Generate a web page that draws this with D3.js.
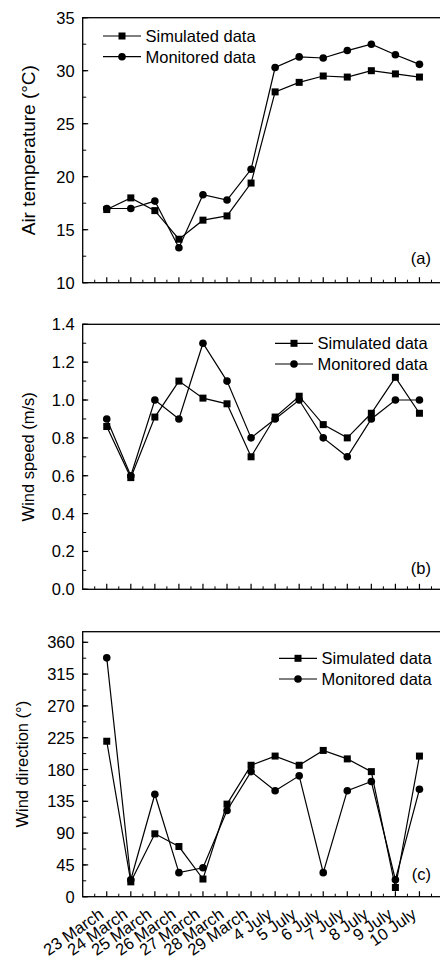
<!DOCTYPE html>
<html>
<head>
<meta charset="utf-8">
<script src="https://cdn.jsdelivr.net/npm/d3@7"></script>
<style>
  body { margin: 0; background: #fff; }
  svg { display: block; }
  text { font-family: "Liberation Sans", Arial, sans-serif; fill: #000; }
</style>
</head>
<body>
<svg id="chart"></svg>
<script>
// dates on the x axis
const dates = ["23 March", "24 March", "25 March", "26 March", "27 March", "28 March", "29 March",
               "4 July", "5 July", "6 July", "7 July", "8 July", "9 July", "10 July"];

const seriesNames = ["Simulated data", "Monitored data"];

// (a) air temperature
const tempSimulated = [16.9, 18.0, 16.8, 14.1, 15.9, 16.3, 19.4, 28.0, 28.9, 29.5, 29.4, 30.0, 29.7, 29.4];
const tempMonitored = [17.0, 17.0, 17.7, 13.3, 18.3, 17.8, 20.7, 30.3, 31.3, 31.2, 31.9, 32.5, 31.5, 30.6];
const tempTicks = [10, 15, 20, 25, 30, 35];

// (b) wind speed
const speedSimulated = [0.86, 0.59, 0.91, 1.10, 1.01, 0.98, 0.70, 0.91, 1.02, 0.87, 0.80, 0.93, 1.12, 0.93];
const speedMonitored = [0.90, 0.60, 1.00, 0.90, 1.30, 1.10, 0.80, 0.90, 1.00, 0.80, 0.70, 0.90, 1.00, 1.00];
const speedTicks = [0.0, 0.2, 0.4, 0.6, 0.8, 1.0, 1.2, 1.4];

// (c) wind direction
const dirSimulated = [220, 21, 89, 71, 25, 131, 186, 199, 186, 207, 195, 177, 13, 199];
const dirMonitored = [338, 24, 145, 34, 41, 122, 177, 150, 171, 34, 150, 163, 24, 152];
const dirTicks = [0, 45, 90, 135, 180, 225, 270, 315, 360];

const width = 440, height = 957;
const svg = d3.select('#chart').attr('width', width).attr('height', height);

const x = d3.scaleLinear().domain([-1, dates.length]).range([82.7, 443.5]);

const panels = [
  { top: 17.7, domain: [10, 35], ticks: tempTicks, minor: 2.5, fmt: d3.format('d'),
    title: 'Air temperature (\u00B0C)', titleX: 28, titleSize: 19, label: '(a)', labelY: 264,
    sim: tempSimulated, mon: tempMonitored, legendX: 103, legendY: 36 },
  { top: 324.3, domain: [0, 1.4], ticks: speedTicks, minor: 0.1, fmt: d3.format('.1f'),
    title: 'Wind speed (m/s)', titleX: 28, titleSize: 16.5, label: '(b)', labelY: 574,
    sim: speedSimulated, mon: speedMonitored, legendX: 275, legendY: 343.3 },
  { top: 631.7, domain: [0, 375], ticks: dirTicks, minor: 22.5, fmt: d3.format('d'),
    title: 'Wind direction (\u00B0)', titleX: 22, titleSize: 16.5, label: '(c)', labelY: 880,
    sim: dirSimulated, mon: dirMonitored, legendX: 279, legendY: 658.3, xLabels: true }
];

const plotH = 265;
const fontSize = 16.5;

panels.forEach(p => {
  const y = d3.scaleLinear().domain(p.domain).range([p.top + plotH, p.top]);
  const g = svg.append('g');
  const x0 = x.range()[0], x1 = x.range()[1];
  const yb = p.top + plotH;

  // frame
  g.append('rect')
    .attr('x', x0).attr('y', p.top)
    .attr('width', x1 - x0).attr('height', plotH)
    .attr('fill', 'none').attr('stroke', '#000').attr('stroke-width', 1.3);

  // y ticks (inward)
  const minorY = d3.range(p.domain[0], p.domain[1] + 1e-9, p.minor);
  g.selectAll('.ymin').data(minorY).join('line')
    .attr('x1', x0).attr('x2', x0 + 3.5)
    .attr('y1', d => y(d)).attr('y2', d => y(d))
    .attr('stroke', '#000').attr('stroke-width', 1);
  g.selectAll('.ymaj').data(p.ticks).join('line')
    .attr('x1', x0).attr('x2', x0 + 5.5)
    .attr('y1', d => y(d)).attr('y2', d => y(d))
    .attr('stroke', '#000').attr('stroke-width', 1.2);
  g.selectAll('.ylab').data(p.ticks).join('text')
    .attr('x', x0 - 8).attr('y', d => y(d))
    .attr('text-anchor', 'end').attr('dominant-baseline', 'central')
    .style('font-size', fontSize + 'px')
    .text(d => p.fmt(d));

  // x ticks (inward)
  const idx = d3.range(dates.length);
  const halfIdx = d3.range(-0.5, dates.length, 1);
  g.selectAll('.xmin').data(halfIdx).join('line')
    .attr('x1', d => x(d)).attr('x2', d => x(d))
    .attr('y1', yb).attr('y2', yb - 3)
    .attr('stroke', '#000').attr('stroke-width', 1);
  g.selectAll('.xmaj').data(idx).join('line')
    .attr('x1', d => x(d)).attr('x2', d => x(d))
    .attr('y1', yb).attr('y2', yb - 5.5)
    .attr('stroke', '#000').attr('stroke-width', 1.2);

  if (p.xLabels) {
    g.selectAll('.xlab').data(dates).join('text')
      .attr('text-anchor', 'end')
      .attr('transform', (d, i) => `translate(${x(i) - 2},${yb + 20}) rotate(-35)`)
      .style('font-size', fontSize + 'px')
      .text(d => d);
  }

  // y title
  g.append('text')
    .attr('transform', `translate(${p.titleX},${p.top + plotH / 2}) rotate(-90)`)
    .attr('text-anchor', 'middle').attr('dominant-baseline', 'central')
    .style('font-size', p.titleSize + 'px')
    .text(p.title);

  // panel label
  g.append('text')
    .attr('x', 431).attr('y', p.labelY)
    .attr('text-anchor', 'end')
    .style('font-size', fontSize + 'px')
    .text(p.label);

  // lines
  const line = d3.line().x((d, i) => x(i)).y(d => y(d));
  [p.sim, p.mon].forEach(vals => {
    g.append('path').datum(vals)
      .attr('d', line)
      .attr('fill', 'none').attr('stroke', '#000').attr('stroke-width', 1.2);
  });

  // markers
  g.selectAll('.sq').data(p.sim).join('rect')
    .attr('x', (d, i) => x(i) - 3.5).attr('y', d => y(d) - 3.5)
    .attr('width', 7).attr('height', 7).attr('fill', '#000');
  g.selectAll('.ci').data(p.mon).join('circle')
    .attr('cx', (d, i) => x(i)).attr('cy', d => y(d))
    .attr('r', 3.8).attr('fill', '#000');

  // legend
  seriesNames.forEach((name, k) => {
    const ly = p.legendY + k * 20.7;
    const lx = p.legendX;
    g.append('line')
      .attr('x1', lx).attr('x2', lx + 38).attr('y1', ly).attr('y2', ly)
      .attr('stroke', '#000').attr('stroke-width', 1.2);
    if (k === 0) {
      g.append('rect').attr('x', lx + 19 - 3.5).attr('y', ly - 3.5)
        .attr('width', 7).attr('height', 7).attr('fill', '#000');
    } else {
      g.append('circle').attr('cx', lx + 19).attr('cy', ly).attr('r', 3.8).attr('fill', '#000');
    }
    g.append('text')
      .attr('x', lx + 42.5).attr('y', ly)
      .attr('dominant-baseline', 'central')
      .style('font-size', fontSize + 'px')
      .text(name);
  });
});
</script>
</body>
</html>
